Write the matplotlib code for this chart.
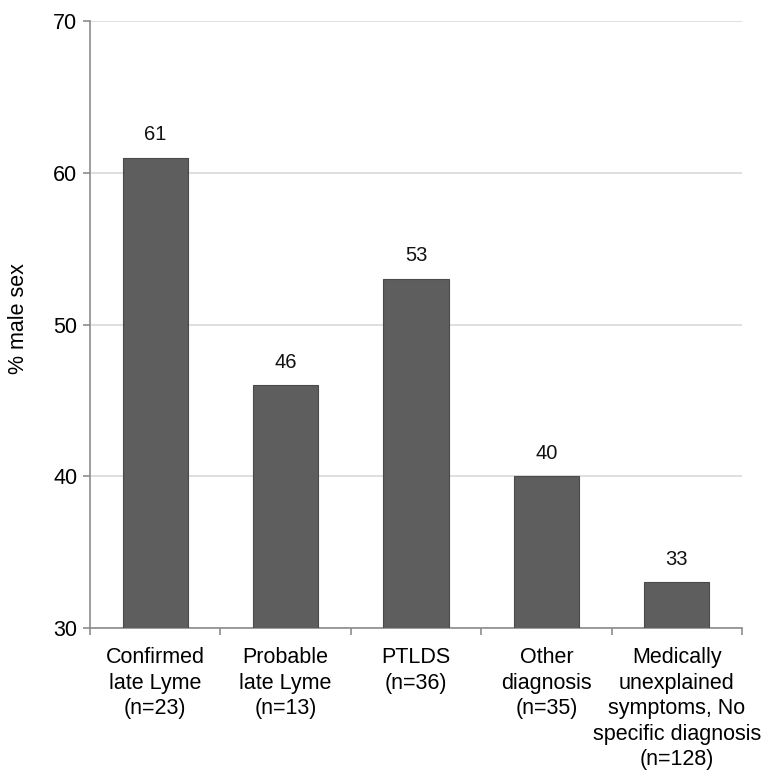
import numpy as np
import matplotlib.pyplot as plt

# ----------------------------
# Datos
# ----------------------------
categories = [
    "Confirmed\nlate Lyme\n(n=23)",
    "Probable\nlate Lyme\n(n=13)",
    "PTLDS\n(n=36)",
    "Other\ndiagnosis\n(n=35)",
    "Medically\nunexplained\nsymptoms, No\nspecific diagnosis\n(n=128)",
]
pct_male = [61, 46, 53, 40, 33]
y_ticks = [30, 40, 50, 60, 70]

plt.rcParams['font.family'] = ['Liberation Sans', 'DejaVu Sans']

bar_color = "#5e5e5e"
grid_color = "#d9d9d9"
axis_color = "#8c8c8c"

fig = plt.figure(figsize=(7.69, 7.70), dpi=100)
ax = fig.add_axes([0.117, 0.1844, 0.848, 0.7883])

x = np.arange(len(categories))
ax.bar(x, pct_male, width=0.5, bottom=0, color=bar_color,
       edgecolor="#4a4a4a", linewidth=0.8, zorder=3)

for xi, v in zip(x, pct_male):
    ax.text(xi, v + 0.9, f"{v}", ha='center', va='bottom', fontsize=14.5, color='#111111')

ax.set_xlim(-0.5, len(categories) - 0.5)
ax.set_ylim(30, 70)
ax.set_yticks(y_ticks)
ax.set_yticklabels([str(t) for t in y_ticks], fontsize=15.5)
ax.yaxis.grid(True, color=grid_color, linewidth=1.2, zorder=0)
ax.set_axisbelow(True)

# Ticks del eje X entre categorías
ax.set_xticks(np.arange(-0.5, len(categories) + 0.5, 1))
ax.set_xticklabels([])
ax.set_xticks(x, minor=True)
ax.set_xticklabels(categories, minor=True, fontsize=15.5, linespacing=1.28, va='top')
ax.tick_params(axis='x', which='minor', length=0, pad=14)
ax.tick_params(axis='x', which='major', direction='out', length=5, color=axis_color, width=1.2)
ax.tick_params(axis='y', direction='out', length=5, color=axis_color, width=1.2, pad=4)

for side in ['top', 'right']:
    ax.spines[side].set_visible(False)
for side in ['left', 'bottom']:
    ax.spines[side].set_color(axis_color)
    ax.spines[side].set_linewidth(1.2)

ax.set_ylabel("% male sex", fontsize=15.5)
ax.yaxis.set_label_coords(-0.094, 0.51)

plt.savefig("out.png", dpi=100)
plt.close()
